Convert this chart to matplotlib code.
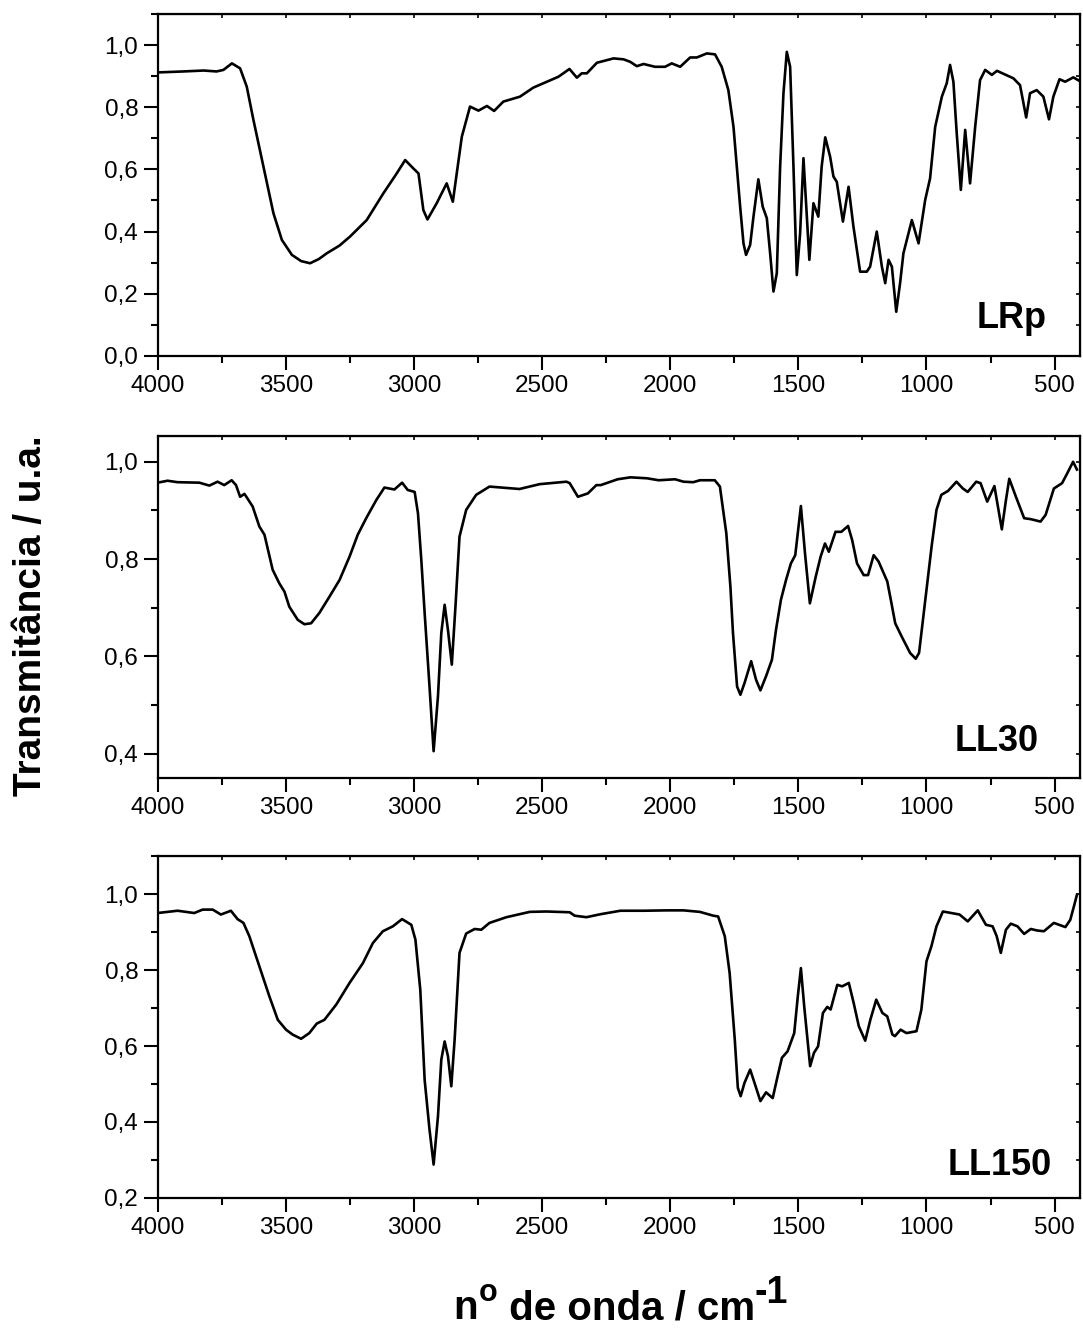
import matplotlib
matplotlib.use("Agg")
import matplotlib.pyplot as plt
from matplotlib.ticker import MultipleLocator, FuncFormatter

plt.rcParams['font.family'] = ['Liberation Sans', 'DejaVu Sans']

# ---- data (wavenumber cm-1, transmittance) ----
lrp_wn = [3995, 3900, 3820, 3770, 3743, 3710, 3678, 3652, 3626, 3587, 3548, 3515,
          3476, 3440, 3405, 3370, 3340, 3290, 3249, 3184, 3119, 3067, 3034, 3002,
          2982, 2963, 2947, 2911, 2872, 2848, 2813, 2781, 2748, 2715, 2687, 2651,
          2586, 2534, 2481, 2436, 2393, 2364, 2345, 2325, 2286, 2221, 2182, 2156,
          2130, 2104, 2059, 2020, 1994, 1961, 1922, 1896, 1857, 1825, 1799, 1773,
          1753, 1740, 1727, 1714, 1704, 1688, 1675, 1656, 1639, 1623, 1610, 1597,
          1584, 1571, 1558, 1545, 1532, 1519, 1506, 1493, 1480, 1467, 1457, 1441,
          1422, 1409, 1395, 1376, 1363, 1350, 1326, 1304, 1285, 1259, 1233, 1220,
          1194, 1174, 1161, 1148, 1135, 1118, 1103, 1090, 1057, 1031, 1005, 986,
          966, 940, 921, 908, 895, 882, 866, 849, 830, 810, 791, 771, 745, 725,
          661, 635, 624, 611, 596, 570, 544, 522, 505, 481, 459, 427, 402]
lrp_t = [0.912, 0.915, 0.918, 0.915, 0.920, 0.941, 0.925, 0.866, 0.759, 0.609, 0.459, 0.373,
         0.325, 0.305, 0.298, 0.312, 0.330, 0.355, 0.384, 0.437, 0.523, 0.587, 0.630, 0.603,
         0.587, 0.469, 0.439, 0.491, 0.555, 0.496, 0.705, 0.802, 0.789, 0.804, 0.788, 0.818,
         0.834, 0.863, 0.882, 0.898, 0.923, 0.895, 0.909, 0.909, 0.943, 0.957, 0.954, 0.946,
         0.932, 0.939, 0.930, 0.930, 0.941, 0.930, 0.960, 0.960, 0.973, 0.970, 0.930, 0.855,
         0.737, 0.609, 0.480, 0.362, 0.325, 0.357, 0.448, 0.568, 0.480, 0.443, 0.330, 0.207,
         0.266, 0.609, 0.845, 0.978, 0.930, 0.609, 0.260, 0.395, 0.636, 0.448, 0.309, 0.491,
         0.448, 0.609, 0.703, 0.641, 0.577, 0.560, 0.432, 0.544, 0.416, 0.271, 0.271, 0.287,
         0.400, 0.287, 0.234, 0.309, 0.287, 0.142, 0.234, 0.330, 0.437, 0.362, 0.502, 0.571,
         0.737, 0.834, 0.877, 0.936, 0.882, 0.716, 0.534, 0.727, 0.555, 0.737, 0.887, 0.920,
         0.904, 0.917, 0.893, 0.871, 0.823, 0.767, 0.845, 0.855, 0.834, 0.761, 0.834, 0.890,
         0.882, 0.896, 0.884]

ll30_wn = [4000, 3961, 3922, 3837, 3798, 3766, 3740, 3711, 3694, 3678, 3661, 3629,
           3603, 3583, 3551, 3525, 3505, 3486, 3453, 3427, 3401, 3369, 3329, 3290,
           3251, 3219, 3186, 3147, 3115, 3076, 3046, 3024, 2997, 2984, 2971, 2958,
           2939, 2923, 2906, 2893, 2880, 2867, 2852, 2837, 2822, 2796, 2757, 2705,
           2588, 2509, 2405, 2392, 2360, 2321, 2288, 2271, 2205, 2155, 2090, 2045,
           1981, 1948, 1910, 1884, 1826, 1806, 1781, 1765, 1755, 1739, 1726, 1710,
           1684, 1665, 1648, 1626, 1603, 1587, 1568, 1548, 1529, 1512, 1490, 1474,
           1455, 1432, 1413, 1396, 1381, 1355, 1332, 1306, 1290, 1271, 1245, 1228,
           1206, 1187, 1153, 1138, 1122, 1097, 1064, 1042, 1029, 1006, 980, 961,
           942, 916, 883, 858, 839, 806, 789, 763, 735, 706, 690, 677, 651, 619,
           593, 555, 535, 503, 471, 451, 428, 413]
ll30_t = [0.957, 0.961, 0.958, 0.957, 0.951, 0.959, 0.952, 0.962, 0.952, 0.928, 0.934, 0.908,
          0.867, 0.850, 0.778, 0.750, 0.733, 0.702, 0.675, 0.666, 0.668, 0.689, 0.723, 0.757,
          0.805, 0.850, 0.884, 0.921, 0.947, 0.943, 0.957, 0.942, 0.938, 0.894, 0.798, 0.689,
          0.538, 0.405, 0.518, 0.648, 0.706, 0.654, 0.583, 0.709, 0.846, 0.901, 0.932, 0.949,
          0.944, 0.954, 0.959, 0.956, 0.928, 0.935, 0.952, 0.952, 0.964, 0.968, 0.966, 0.962,
          0.964, 0.959, 0.958, 0.962, 0.962, 0.949, 0.853, 0.743, 0.648, 0.538, 0.521, 0.545,
          0.590, 0.552, 0.530, 0.559, 0.593, 0.655, 0.716, 0.757, 0.791, 0.808, 0.909, 0.812,
          0.709, 0.764, 0.805, 0.832, 0.815, 0.856, 0.856, 0.868, 0.839, 0.791, 0.767, 0.767,
          0.808, 0.795, 0.754, 0.713, 0.668, 0.641, 0.607, 0.595, 0.607, 0.709, 0.826, 0.901,
          0.932, 0.940, 0.959, 0.945, 0.938, 0.959, 0.956, 0.918, 0.950, 0.861, 0.921, 0.965,
          0.928, 0.884, 0.882, 0.877, 0.891, 0.945, 0.956, 0.976, 1.000, 0.984]

ll150_wn = [4000, 3922, 3857, 3824, 3785, 3753, 3714, 3688, 3665, 3642, 3603, 3564,
            3531, 3499, 3473, 3440, 3408, 3379, 3349, 3303, 3251, 3199, 3160, 3121,
            3082, 3046, 3010, 2994, 2975, 2958, 2939, 2923, 2906, 2893, 2880, 2867,
            2854, 2841, 2822, 2796, 2763, 2737, 2705, 2639, 2548, 2483, 2392, 2373,
            2327, 2271, 2194, 2103, 2013, 1948, 1884, 1832, 1813, 1787, 1768, 1748,
            1736, 1725, 1710, 1688, 1671, 1648, 1626, 1600, 1581, 1564, 1542, 1516,
            1502, 1490, 1477, 1454, 1439, 1423, 1404, 1387, 1374, 1348, 1329, 1303,
            1284, 1264, 1239, 1219, 1196, 1172, 1153, 1133, 1123, 1101, 1078, 1039,
            1020, 1000, 981, 961, 936, 903, 871, 839, 800, 768, 742, 726, 710, 690,
            671, 645, 619, 593, 568, 542, 503, 458, 439, 423, 413]
ll150_t = [0.950, 0.956, 0.950, 0.959, 0.959, 0.946, 0.956, 0.934, 0.924, 0.889, 0.810, 0.731,
           0.669, 0.643, 0.630, 0.619, 0.634, 0.659, 0.669, 0.709, 0.766, 0.818, 0.871, 0.902,
           0.915, 0.934, 0.919, 0.880, 0.748, 0.511, 0.380, 0.288, 0.415, 0.564, 0.612, 0.573,
           0.494, 0.617, 0.845, 0.896, 0.908, 0.906, 0.924, 0.939, 0.953, 0.954, 0.952, 0.943,
           0.939, 0.947, 0.956, 0.956, 0.957, 0.957, 0.953, 0.943, 0.941, 0.889, 0.792, 0.617,
           0.490, 0.468, 0.503, 0.538, 0.503, 0.455, 0.478, 0.463, 0.520, 0.569, 0.586, 0.634,
           0.731, 0.805, 0.704, 0.547, 0.582, 0.599, 0.687, 0.703, 0.696, 0.761, 0.757, 0.766,
           0.713, 0.652, 0.614, 0.669, 0.722, 0.687, 0.678, 0.630, 0.626, 0.643, 0.634, 0.639,
           0.696, 0.823, 0.862, 0.915, 0.954, 0.950, 0.946, 0.928, 0.957, 0.919, 0.915, 0.889,
           0.845, 0.906, 0.922, 0.915, 0.895, 0.908, 0.904, 0.902, 0.924, 0.913, 0.932, 0.972,
           0.998]

panels = [
    ("LRp", lrp_wn, lrp_t, (0.0, 1.1), [0.0, 0.2, 0.4, 0.6, 0.8, 1.0], (0.964, 0.082)),
    ("LL30", ll30_wn, ll30_t, (0.35, 1.053), [0.4, 0.6, 0.8, 1.0], (0.956, 0.078)),
    ("LL150", ll150_wn, ll150_t, (0.2, 1.1), [0.2, 0.4, 0.6, 0.8, 1.0], (0.970, 0.067)),
]

W, H = 1083, 1328
fig = plt.figure(figsize=(W / 100, H / 100), dpi=100)
left, width = 0.1455, 0.8515
bottoms = [0.732, 0.4142, 0.0979]
height = 0.2575

comma = FuncFormatter(lambda v, p: ("%.1f" % v).replace(".", ","))

for (name, wn, t, ylim, yt, lab), b in zip(panels, bottoms):
    ax = fig.add_axes([left, b, width, height])
    ax.plot(wn, t, color='black', lw=1.9, solid_joinstyle='round')
    ax.set_xlim(4000, 402)
    ax.set_ylim(*ylim)
    ax.set_xticks([4000, 3500, 3000, 2500, 2000, 1500, 1000, 500])
    ax.xaxis.set_minor_locator(MultipleLocator(250))
    ax.set_yticks(yt)
    ax.yaxis.set_minor_locator(MultipleLocator(0.1))
    ax.yaxis.set_major_formatter(comma)
    ax.tick_params(which='major', direction='out', length=10, width=1.5,
                   labelsize=17.5, pad=4)
    ax.tick_params(which='minor', direction='out', length=5, width=1.5)
    for s in ax.spines.values():
        s.set_linewidth(1.6)
    # small inward ticks on the top and right frame
    top = ax.secondary_xaxis('top')
    top.set_xticks([4000, 3500, 3000, 2500, 2000, 1500, 1000, 500])
    top.xaxis.set_minor_locator(MultipleLocator(250))
    top.tick_params(which='both', direction='in', length=3, width=1.2,
                    labeltop=False)
    right = ax.secondary_yaxis('right')
    right.set_yticks(yt)
    right.yaxis.set_minor_locator(MultipleLocator(0.1))
    right.tick_params(which='both', direction='in', length=3, width=1.2,
                      labelright=False)
    ax.text(lab[0], lab[1], name, transform=ax.transAxes, ha='right',
            va='baseline', fontsize=26, fontweight='bold')

fig.text(0.029, 0.5365, u"Transmitância / u.a.", rotation=90, ha='center',
         va='center', fontsize=28, fontweight='bold')

# x label built piece by piece so the superscripts sit like the original
renderer = fig.canvas.get_renderer()
x = 453 / W
base = 1 - 1319 / H
for s, fs, dy in [("n", 29, 0), ("o", 22, 18), (" de onda / cm", 29, 0), ("-1", 27, 16)]:
    txt = fig.text(x, base + dy / H, s, fontsize=fs, fontweight='bold',
                   ha='left', va='baseline')
    x = txt.get_window_extent(renderer).x1 / W + (1.5 / W if s == "n" else 0)

fig.savefig("out.png", dpi=100)
